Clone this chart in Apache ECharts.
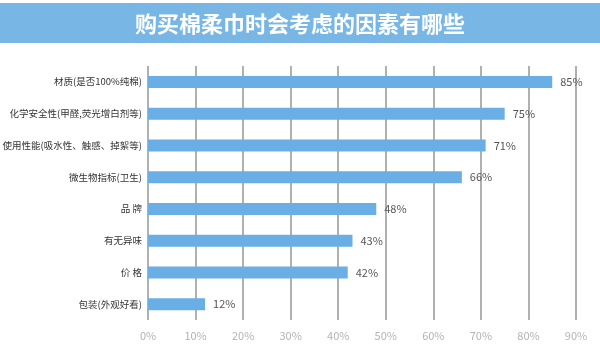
<!DOCTYPE html>
<html>
<head>
    <meta charset="utf-8">
    <script src="https://cdn.jsdelivr.net/npm/echarts@6/dist/echarts.min.js"></script>
</head>
<body style="margin:0;background:#fff;">
    <div id="chart" style="width:600px;height:350px;"></div>
    <script type="text/javascript">
        var titleText = '购买棉柔巾时会考虑的因素有哪些';
        var categories = ['材质(是否100%纯棉)', '化学安全性(甲醛,荧光增白剂等)', '使用性能(吸水性、触感、掉絮等)', '微生物指标(卫生)', '品 牌', '有无异味', '价 格', '包装(外观好看)'];
        var values = [85, 75, 71, 66, 48, 43, 42, 12];
        var xTicks = [0, 10, 20, 30, 40, 50, 60, 70, 80, 90];

        var chart = echarts.init(document.getElementById('chart'));
        var font = '"Noto Sans CJK SC", "Noto Sans", sans-serif';
        option = {
            backgroundColor: '#fff',
            graphic: [{
                type: 'rect',
                left: 0, top: 3,
                shape: { width: 600, height: 40 },
                style: { fill: '#78b6e6' }
            }],
            title: {
                text: titleText,
                left: 'center',
                top: 8,
                textStyle: { color: '#fff', fontSize: 22, fontWeight: 'bold', fontFamily: font }
            },
            grid: { left: 148, right: 24, top: 66, height: 254, outerBoundsMode: 'none', containLabel: false },
            xAxis: {
                type: 'value',
                min: xTicks[0],
                max: xTicks[xTicks.length - 1],
                interval: 10,
                axisLine: { show: false },
                axisTick: { show: false },
                splitLine: { show: true, lineStyle: { color: '#b0b0b0', width: 2 } },
                axisLabel: { formatter: '{value}%', color: '#b3b3b3', fontSize: 11, margin: 10, fontFamily: font }
            },
            yAxis: {
                type: 'category',
                data: categories,
                inverse: true,
                axisLine: { show: false },
                axisTick: { show: false },
                axisLabel: { color: '#333', fontSize: 9.5, margin: 6, fontFamily: font }
            },
            series: [{
                type: 'bar',
                data: values,
                barWidth: 12,
                itemStyle: { color: '#6aaee6' },
                label: { show: true, position: 'right', formatter: '{c}%', color: '#555', fontSize: 11, distance: 8, fontFamily: font }
            }]
        };
        chart.setOption(option);
    </script>
</body>
</html>
